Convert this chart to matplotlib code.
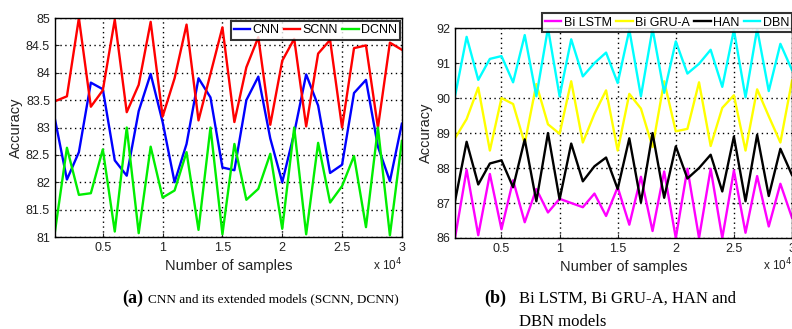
import matplotlib.pyplot as plt
from matplotlib.ticker import FixedLocator

samples = [1000, 2000, 3000, 4000, 5000, 6000, 7000, 8000, 9000, 10000,
           11000, 12000, 13000, 14000, 15000, 16000, 17000, 18000, 19000, 20000,
           21000, 22000, 23000, 24000, 25000, 26000, 27000, 28000, 29000, 30000]

cnn = [83.15, 82.05, 82.55, 83.82, 83.7, 82.4, 82.12, 83.3, 83.98, 83.1,
       82.0, 82.7, 83.9, 83.55, 82.27, 82.22, 83.5, 83.93, 82.8, 82.0,
       82.9, 83.97, 83.4, 82.17, 82.32, 83.63, 83.87, 82.65, 82.02, 83.07]
scnn = [83.48, 83.57, 85.0, 83.38, 83.68, 84.97, 83.28, 83.78, 84.93, 83.2,
        83.9, 84.88, 83.13, 83.98, 84.83, 83.1, 84.1, 84.65, 83.05, 84.22,
        84.62, 83.02, 84.35, 84.6, 83.0, 84.45, 84.5, 83.0, 84.55, 84.42]
dcnn = [81.1, 82.63, 81.77, 81.8, 82.6, 81.1, 83.0, 81.07, 82.65, 81.72,
        81.85, 82.55, 81.13, 83.0, 81.05, 82.7, 81.68, 81.88, 82.52, 81.15,
        83.0, 81.05, 82.72, 81.63, 81.93, 82.48, 81.18, 83.0, 81.03, 82.75]

bi_lstm = [86.0, 87.95, 86.08, 87.83, 86.25, 87.65, 86.45, 87.4, 86.73, 87.12,
           87.0, 86.88, 87.27, 86.63, 87.45, 86.38, 87.75, 86.2, 87.9, 86.0,
           87.98, 86.0, 87.98, 86.0, 87.93, 86.15, 87.77, 86.33, 87.55, 86.58]
bi_gru = [88.85, 89.4, 90.3, 88.5, 90.0, 89.83, 88.7, 90.4, 89.25, 88.98,
          90.48, 88.73, 89.55, 90.22, 88.5, 90.12, 89.7, 88.6, 90.48, 89.05,
          89.12, 90.45, 88.63, 89.72, 90.08, 88.5, 90.25, 89.48, 88.73, 90.5]
han = [87.05, 88.75, 87.53, 88.13, 88.22, 87.45, 88.82, 87.05, 89.0, 87.1,
       88.7, 87.62, 88.05, 88.3, 87.4, 88.85, 87.02, 89.0, 87.15, 88.62,
       87.7, 88.0, 88.38, 87.33, 88.9, 87.05, 88.95, 87.2, 88.55, 87.8]
dbn = [90.05, 91.75, 90.52, 91.12, 91.2, 90.45, 91.8, 90.05, 92.0, 90.05,
       91.68, 90.62, 91.0, 91.3, 90.43, 91.95, 90.05, 91.98, 90.15, 91.62,
       90.7, 90.98, 91.38, 90.32, 91.95, 90.02, 91.98, 90.2, 91.55, 90.8]

x_ticks = [5000, 10000, 15000, 20000, 25000, 30000]
x_tick_labels = ["0.5", "1", "1.5", "2", "2.5", "3"]
left_y_ticks = [81, 81.5, 82, 82.5, 83, 83.5, 84, 84.5, 85]
left_y_labels = ["81", "81.5", "82", "82.5", "83", "83.5", "84", "84.5", "85"]
right_y_ticks = [86, 87, 88, 89, 90, 91, 92]

plt.rcParams['font.family'] = ['Liberation Sans', 'DejaVu Sans']

fig = plt.figure(figsize=(7.92, 3.29), dpi=100)
ax1 = fig.add_axes([0.0694, 0.2796, 0.438, 0.6656])
ax2 = fig.add_axes([0.5745, 0.2766, 0.4255, 0.638])


def style_axes(ax, yticks, ylabels, ylim):
    ax.set_xlim(1000, 30000)
    ax.set_ylim(*ylim)
    ax.xaxis.set_major_locator(FixedLocator(x_ticks))
    ax.set_xticklabels(x_tick_labels)
    ax.set_yticks(yticks)
    ax.set_yticklabels(ylabels)
    ax.grid(True, color='black', linestyle=(0, (1, 2.5)), linewidth=1.0)
    ax.tick_params(direction='in', length=3, labelsize=9, colors='#222222')
    for s in ax.spines.values():
        s.set_linewidth(1.0)
    ax.set_xlabel("Number of samples", fontsize=10.5, color='#222222', labelpad=4)
    ax.set_ylabel("Accuracy", fontsize=10.5, color='#222222', labelpad=2)
    ax.text(1.0, -0.09, r"x 10$^4$", transform=ax.transAxes, ha='right',
            va='top', fontsize=8.5, color='#222222')


def add_legend(ax, ncol, anchor):
    leg = ax.legend(loc='upper right', ncol=ncol, bbox_to_anchor=anchor,
                    fontsize=9, frameon=True, fancybox=False, handlelength=1.3,
                    handletextpad=0.2, columnspacing=0.35, borderpad=0.25,
                    borderaxespad=0)
    leg.get_frame().set_edgecolor('black')
    leg.get_frame().set_linewidth(1.5)
    return leg


lw = 1.7
ax1.plot(samples, cnn, color='#0000ff', lw=lw, label='CNN')
ax1.plot(samples, scnn, color='#ff0000', lw=lw, label='SCNN')
ax1.plot(samples, dcnn, color='#00ee00', lw=lw, label='DCNN')
style_axes(ax1, left_y_ticks, left_y_labels, (81, 85))
add_legend(ax1, 3, (0.995, 0.985))

ax2.plot(samples, bi_lstm, color='#ff00ff', lw=lw, label='Bi LSTM')
ax2.plot(samples, bi_gru, color='#ffff00', lw=lw, label='Bi GRU-A')
ax2.plot(samples, han, color='black', lw=lw, label='HAN')
ax2.plot(samples, dbn, color='#00ffff', lw=lw, label='DBN')
style_axes(ax2, right_y_ticks, [str(v) for v in right_y_ticks], (86, 92))
add_legend(ax2, 4, (1.0, 1.07))

serif = ['Liberation Serif', 'DejaVu Serif']
fig.text(0.154, 0.08, "(a)", fontsize=13, fontweight='bold', family=serif)
fig.text(0.187, 0.08, "CNN and its extended models (SCNN, DCNN)", fontsize=9.5,
         family=serif)
fig.text(0.612, 0.08, "(b)", fontsize=13, fontweight='bold', family=serif)
fig.text(0.655, 0.08, "Bi LSTM, Bi GRU-A, HAN and", fontsize=12, family=serif)
fig.text(0.655, 0.01, "DBN models", fontsize=12, family=serif)

fig.savefig("out.png", dpi=100)
